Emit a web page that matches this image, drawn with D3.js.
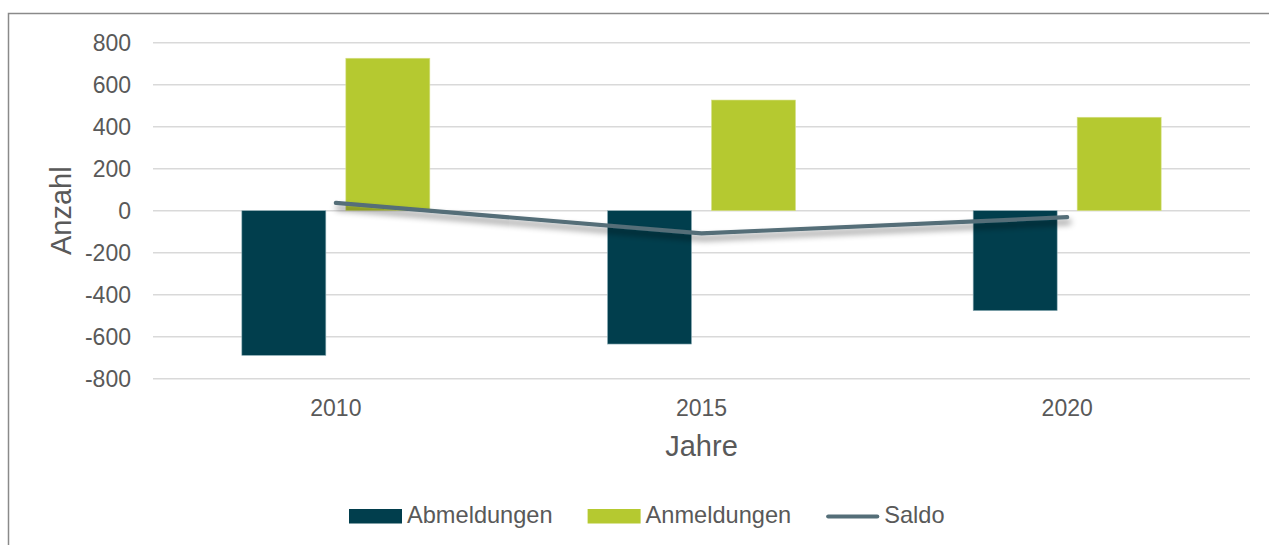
<!DOCTYPE html>
<html>
<head>
<meta charset="utf-8">
<script src="https://cdn.jsdelivr.net/npm/d3@7"></script>
<style>
  html, body { margin: 0; padding: 0; background: #fff; }
  svg { display: block; font-family: "Liberation Sans", Arial, sans-serif; }
</style>
</head>
<body>
<svg id="chart" width="1269" height="545"></svg>
<script>
const years = ["2010", "2015", "2020"];
const abmeldungen = [-689, -635, -476];
const anmeldungen = [726, 527, 445];
const saldo = [37, -108, -31];
const yTicks = [-800, -600, -400, -200, 0, 200, 400, 600, 800];
const seriesNames = ["Abmeldungen", "Anmeldungen", "Saldo"];

const colors = { Abmeldungen: "#013E4D", Anmeldungen: "#B5C930", Saldo: "#546E78" };
const textColor = "#595959";

const svg = d3.select("#chart");

// defs: shadow for line
const defs = svg.append("defs");
const f = defs.append("filter").attr("id", "shadow").attr("x", "-10%").attr("y", "-100%").attr("width", "120%").attr("height", "400%");
f.append("feDropShadow").attr("dx", 2).attr("dy", 5).attr("stdDeviation", 3)
  .attr("flood-color", "#000").attr("flood-opacity", 0.45);

// frame
svg.append("rect").attr("x", 8.5).attr("y", 13.5).attr("width", 1400).attr("height", 700)
  .attr("fill", "none").attr("stroke", "#8a8a8a").attr("stroke-width", 1.5);

const plotLeft = 153, plotRight = 1250;
const y = d3.scaleLinear().domain([-800, 800]).range([378.7, 42.7]);
const x0 = d3.scaleBand().domain(years).range([plotLeft, plotRight]);
const bw = x0.bandwidth();
const x1 = d3.scaleBand().domain(["Abmeldungen", "Anmeldungen"])
  .range([bw / 2 - 94, bw / 2 + 94]).paddingInner(20 / 104).paddingOuter(0);

// gridlines
svg.append("g").selectAll("line").data(yTicks).join("line")
  .attr("x1", plotLeft).attr("x2", plotRight)
  .attr("y1", d => y(d)).attr("y2", d => y(d))
  .attr("stroke", "#d9d9d9").attr("stroke-width", 1.5);

// y axis labels
const yAxis = d3.axisLeft(y).tickValues(yTicks).tickSize(0).tickPadding(0).tickFormat(d => String(d));
const gy = svg.append("g").attr("transform", "translate(131,0)").call(yAxis);
gy.select(".domain").remove();
gy.selectAll("text").attr("font-size", 23).attr("fill", textColor)
  .attr("font-family", "Liberation Sans, Arial, sans-serif").attr("dy", "0.35em");

// x axis labels
const xAxis = d3.axisBottom(x0).tickSize(0).tickPadding(0);
const gx = svg.append("g").attr("transform", "translate(0,416)").call(xAxis);
gx.select(".domain").remove();
gx.selectAll("text").attr("font-size", 23).attr("fill", textColor)
  .attr("font-family", "Liberation Sans, Arial, sans-serif").attr("dy", 0).attr("y", 0);

// bars
const barData = [];
years.forEach((yr, i) => {
  barData.push({ year: yr, key: "Abmeldungen", value: abmeldungen[i] });
  barData.push({ year: yr, key: "Anmeldungen", value: anmeldungen[i] });
});
svg.append("g").selectAll("rect").data(barData).join("rect")
  .attr("x", d => x0(d.year) + x1(d.key))
  .attr("width", x1.bandwidth())
  .attr("y", d => y(Math.max(0, d.value)))
  .attr("height", d => Math.abs(y(d.value) - y(0)))
  .attr("fill", d => colors[d.key])
  .attr("stroke", d => d.key === "Abmeldungen" ? "#8fb0b8" : "#d6e08a")
  .attr("stroke-width", 0.6);

// saldo line
const line = d3.line().x((d, i) => x0(years[i]) + bw / 2).y(d => y(d));
svg.append("path").datum(saldo)
  .attr("d", line)
  .attr("fill", "none")
  .attr("stroke", colors.Saldo)
  .attr("stroke-width", 4.2)
  .attr("stroke-linecap", "round")
  .attr("stroke-linejoin", "round")
  .attr("filter", "url(#shadow)");

// axis titles
svg.append("text").attr("x", 701.5).attr("y", 456).attr("text-anchor", "middle")
  .attr("font-size", 29).attr("fill", textColor).text("Jahre");
svg.append("text").attr("transform", "translate(70.5,210.7) rotate(-90)")
  .attr("text-anchor", "middle").attr("font-size", 29).attr("fill", textColor).text("Anzahl");

// legend
const lg = svg.append("g");
let lx = 349;
const ly = 509;
seriesNames.forEach((name, i) => {
  if (name === "Saldo") {
    lg.append("line").attr("x1", lx + 2).attr("x2", lx + 51).attr("y1", ly + 7.5).attr("y2", ly + 7.5)
      .attr("stroke", colors.Saldo).attr("stroke-width", 4.2).attr("stroke-linecap", "round");
  } else {
    lg.append("rect").attr("x", lx).attr("y", ly).attr("width", 53).attr("height", 14.5)
      .attr("fill", colors[name]);
  }
  const t = lg.append("text").attr("x", lx + 58).attr("y", 523.3)
    .attr("font-size", 23.6).attr("fill", textColor).text(name);
  const w = t.node().getComputedTextLength();
  lx = lx + 58 + w + 35;
});
</script>
</body>
</html>
